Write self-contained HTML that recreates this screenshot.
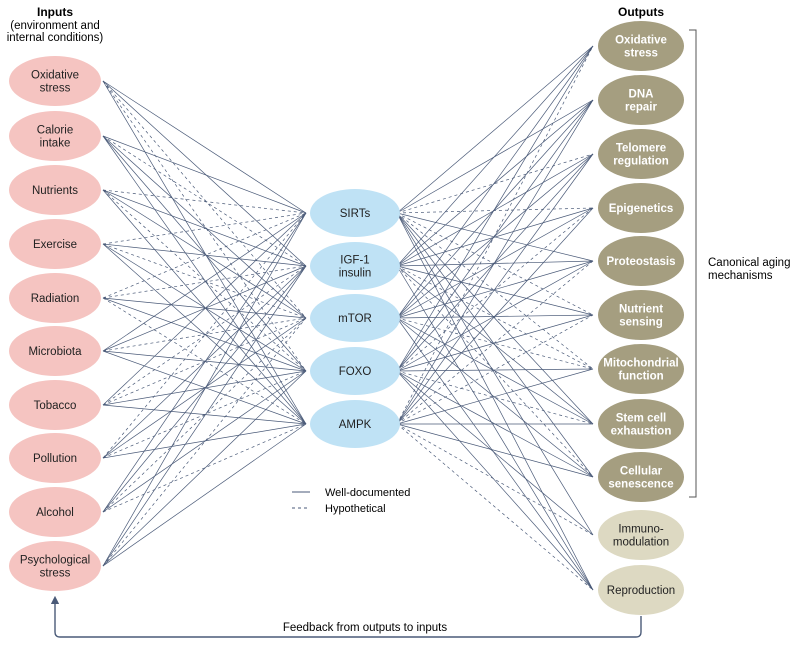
<!DOCTYPE html>
<html><head><meta charset="utf-8"><style>
body{margin:0;background:#fff}
svg{display:block;font-family:"Liberation Sans",sans-serif}
</style></head><body>
<svg id="s" width="800" height="646" viewBox="0 0 800 646" xmlns="http://www.w3.org/2000/svg">
<defs><marker id="ah" markerWidth="6" markerHeight="6" refX="3" refY="3" orient="auto"><path d="M0,0 L6,3 L0,6 z" fill="#4a5a78"/></marker></defs>
<g id="lines" stroke="#4a5a78" stroke-width="0.7" fill="none"></g>
<g id="nodes"></g>
<text x="55" y="16" font-size="12" font-weight="bold" text-anchor="middle">Inputs</text>
<text x="55" y="29" font-size="11.5" text-anchor="middle">(environment and</text>
<text x="55" y="41" font-size="11.5" text-anchor="middle">internal conditions)</text>
<text x="641" y="16" font-size="12" font-weight="bold" text-anchor="middle">Outputs</text>
<path d="M689,30 H696 V497 H689" stroke="#555" stroke-width="1" fill="none"/>
<text x="708" y="266" font-size="11.5">Canonical aging</text>
<text x="708" y="279" font-size="11.5">mechanisms</text>
<line x1="292" y1="492" x2="310" y2="492" stroke="#4a5a78" stroke-width="1"/>
<line x1="292" y1="508" x2="310" y2="508" stroke="#4a5a78" stroke-width="1" stroke-dasharray="3,3"/>
<text x="325" y="496" font-size="11">Well-documented</text>
<text x="325" y="512" font-size="11">Hypothetical</text>
<path d="M641,616 V632 Q641,637 636,637 H60 Q55,637 55,632 V600" stroke="#4a5a78" stroke-width="1.4" fill="none" marker-end="url(#ah)"/>
<text x="365" y="631" font-size="11.5" text-anchor="middle">Feedback from outputs to inputs</text>
</svg>
<script>
var NS="http://www.w3.org/2000/svg";
var L=document.getElementById("lines"),N=document.getElementById("nodes");
var inp=[["Oxidative","stress"],["Calorie","intake"],["Nutrients"],["Exercise"],["Radiation"],["Microbiota"],["Tobacco"],["Pollution"],["Alcohol"],["Psychological","stress"]];
var inY=[81,136,190,244,298,351,405,458,512,566];
var mid=[["SIRTs"],["IGF-1","insulin"],["mTOR"],["FOXO"],["AMPK"]];
var midY=[213,266,318,371,424];
var out=[["Oxidative","stress"],["DNA","repair"],["Telomere","regulation"],["Epigenetics"],["Proteostasis"],["Nutrient","sensing"],["Mitochondrial","function"],["Stem cell","exhaustion"],["Cellular","senescence"],["Immuno-","modulation"],["Reproduction"]];
var outY=[46,100,154,208,261,315,369,424,477,535,590];
function ln(x1,y1,x2,y2,d){var l=document.createElementNS(NS,"line");l.setAttribute("x1",x1);l.setAttribute("y1",y1);l.setAttribute("x2",x2);l.setAttribute("y2",y2);if(d)l.setAttribute("stroke-dasharray","3,3");L.appendChild(l);}
var seed=7;function r(){seed=(seed*9301+49297)%233280;return seed/233280;}
for(var i=0;i<10;i++)for(var j=0;j<5;j++)ln(103,inY[i],306,midY[j],r()<0.3);
for(var j=0;j<5;j++)for(var k=0;k<11;k++){if(k>=9&&r()<0.3)continue;ln(397,midY[j],593,outY[k],r()<0.25);}
function node(cx,cy,rx,ry,fill,lines,col,bold,fs){var e=document.createElementNS(NS,"ellipse");e.setAttribute("cx",cx);e.setAttribute("cy",cy);e.setAttribute("rx",rx);e.setAttribute("ry",ry);e.setAttribute("fill",fill);N.appendChild(e);
var n=lines.length;for(var q=0;q<n;q++){var t=document.createElementNS(NS,"text");t.setAttribute("x",cx);t.setAttribute("y",cy+4+(q-(n-1)/2)*13);t.setAttribute("text-anchor","middle");t.setAttribute("font-size",fs);t.setAttribute("fill",col);if(bold)t.setAttribute("font-weight","bold");t.textContent=lines[q];N.appendChild(t);}}
for(var i=0;i<10;i++)node(55,inY[i],46,25,"#f5c4c1",inp[i],"#222",false,11.5);
for(var j=0;j<5;j++)node(355,midY[j],45,24,"#bfe2f5",mid[j],"#222",false,11.5);
for(var k=0;k<11;k++){var lt=k>=9;node(641,outY[k],43,25,lt?"#ddd9c2":"#a59e80",out[k],lt?"#222":"#fff",!lt,11.5);}
</script>
</body></html>
